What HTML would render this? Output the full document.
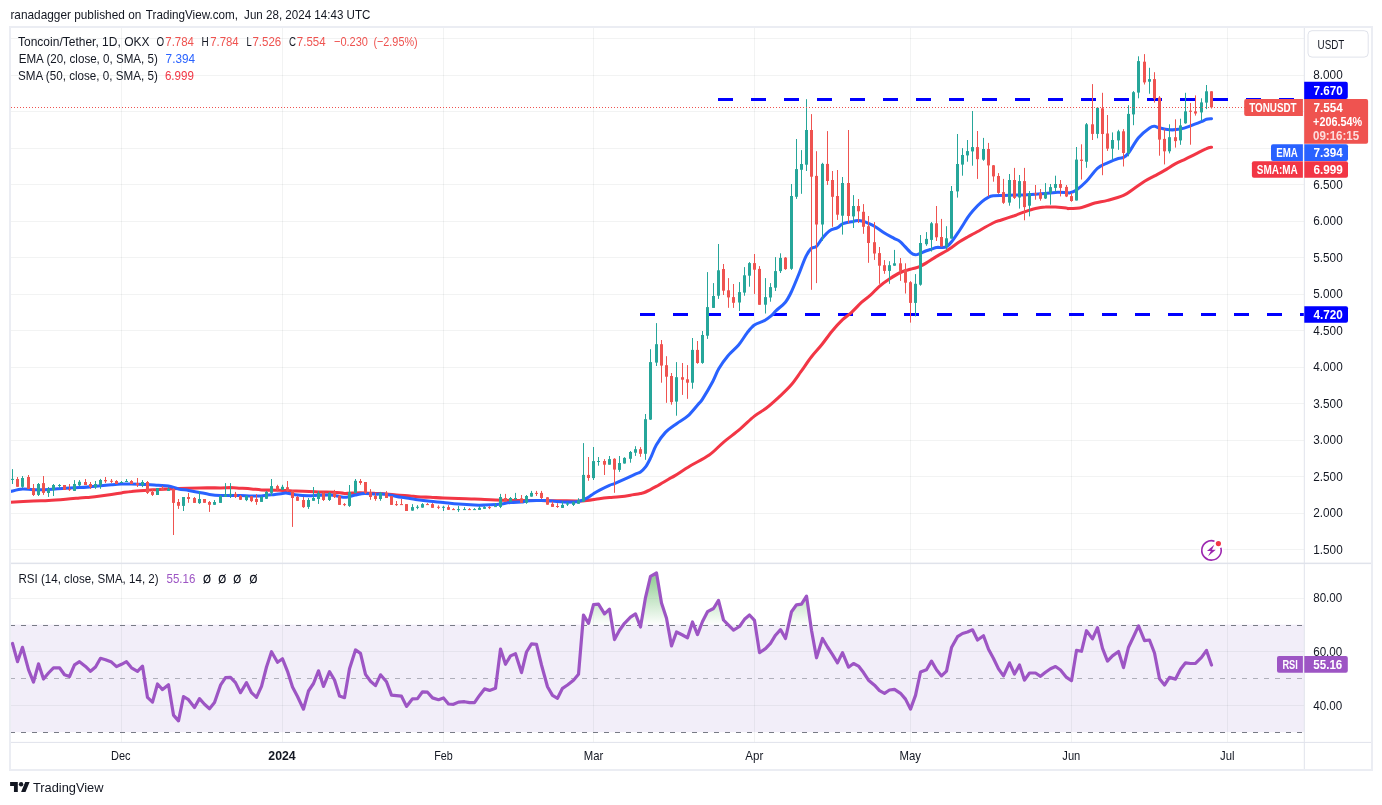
<!DOCTYPE html>
<html><head><meta charset="utf-8"><title>TONUSDT chart</title>
<style>html,body{margin:0;padding:0;background:#fff;}body{width:1382px;height:805px;overflow:hidden;font-family:"Liberation Sans",sans-serif;}</style></head>
<body>
<svg width="1382" height="805" viewBox="0 0 1382 805" style="display:block;will-change:transform" font-family="Liberation Sans, sans-serif">
<defs>
<linearGradient id="ob" gradientUnits="userSpaceOnUse" x1="0" y1="544" x2="0" y2="625.5"><stop offset="0" stop-color="#4caf50" stop-opacity="1"/><stop offset="1" stop-color="#4caf50" stop-opacity="0"/></linearGradient>
<clipPath id="above70"><rect x="10" y="564" width="1294" height="61.5"/></clipPath>
<clipPath id="main"><rect x="10.5" y="28" width="1293.5" height="535"/></clipPath>
</defs>
<rect width="1382" height="805" fill="#ffffff"/>
<rect x="11" y="624.6" width="1293" height="107.6" fill="#7e57c2" fill-opacity="0.1"/>
<rect x="121" y="28" width="1" height="714" fill="#26322e" fill-opacity="0.06"/>
<rect x="282" y="28" width="1" height="714" fill="#26322e" fill-opacity="0.06"/>
<rect x="443" y="28" width="1" height="714" fill="#26322e" fill-opacity="0.06"/>
<rect x="593" y="28" width="1" height="714" fill="#26322e" fill-opacity="0.06"/>
<rect x="754" y="28" width="1" height="714" fill="#26322e" fill-opacity="0.06"/>
<rect x="910" y="28" width="1" height="714" fill="#26322e" fill-opacity="0.06"/>
<rect x="1071" y="28" width="1" height="714" fill="#26322e" fill-opacity="0.06"/>
<rect x="1227" y="28" width="1" height="714" fill="#26322e" fill-opacity="0.06"/>
<rect x="11" y="38" width="1293" height="1" fill="#26322e" fill-opacity="0.06"/>
<rect x="11" y="75" width="1293" height="1" fill="#26322e" fill-opacity="0.06"/>
<rect x="11" y="111" width="1293" height="1" fill="#26322e" fill-opacity="0.06"/>
<rect x="11" y="148" width="1293" height="1" fill="#26322e" fill-opacity="0.06"/>
<rect x="11" y="184" width="1293" height="1" fill="#26322e" fill-opacity="0.06"/>
<rect x="11" y="221" width="1293" height="1" fill="#26322e" fill-opacity="0.06"/>
<rect x="11" y="257" width="1293" height="1" fill="#26322e" fill-opacity="0.06"/>
<rect x="11" y="294" width="1293" height="1" fill="#26322e" fill-opacity="0.06"/>
<rect x="11" y="330" width="1293" height="1" fill="#26322e" fill-opacity="0.06"/>
<rect x="11" y="367" width="1293" height="1" fill="#26322e" fill-opacity="0.06"/>
<rect x="11" y="403" width="1293" height="1" fill="#26322e" fill-opacity="0.06"/>
<rect x="11" y="440" width="1293" height="1" fill="#26322e" fill-opacity="0.06"/>
<rect x="11" y="476" width="1293" height="1" fill="#26322e" fill-opacity="0.06"/>
<rect x="11" y="513" width="1293" height="1" fill="#26322e" fill-opacity="0.06"/>
<rect x="11" y="549" width="1293" height="1" fill="#26322e" fill-opacity="0.06"/>
<rect x="11" y="598" width="1293" height="1" fill="#26322e" fill-opacity="0.06"/>
<rect x="11" y="651" width="1293" height="1" fill="#26322e" fill-opacity="0.06"/>
<rect x="11" y="705" width="1293" height="1" fill="#26322e" fill-opacity="0.06"/>
<line x1="10" x2="1304" y1="625.5" y2="625.5" stroke="#787b86" stroke-width="1" stroke-dasharray="5 6"/>
<line x1="10" x2="1304" y1="732.5" y2="732.5" stroke="#787b86" stroke-width="1" stroke-dasharray="5 6"/>
<line x1="10" x2="1304" y1="678.5" y2="678.5" stroke="#787b86" stroke-opacity="0.55" stroke-width="1" stroke-dasharray="5 6"/>
<g clip-path="url(#main)">
<line x1="718" x2="1304" y1="99.5" y2="99.5" stroke="#0000ff" stroke-width="3" stroke-dasharray="15 18"/>
<line x1="640" x2="1304" y1="314.5" y2="314.5" stroke="#0000ff" stroke-width="3" stroke-dasharray="15 18"/>
<path d="M10.6,502.3 C14.4,502.1 27.1,501.3 33.4,501.0 C39.7,500.7 43.2,500.8 48.6,500.5 C54.0,500.2 60.6,499.7 65.8,499.3 C71.0,498.9 75.4,498.4 79.5,498.0 C83.6,497.6 86.9,497.5 90.4,497.2 C93.9,496.9 96.9,496.5 100.4,496.0 C103.9,495.5 107.9,494.9 111.4,494.4 C114.9,493.9 118.1,493.4 121.5,492.9 C124.9,492.4 127.3,491.8 131.6,491.4 C135.9,490.9 143.1,490.5 147.5,490.2 C151.9,489.9 154.8,489.6 158.3,489.4 C161.8,489.2 165.0,489.1 168.4,488.9 C171.8,488.7 173.4,488.6 178.6,488.4 C183.8,488.2 192.4,488.0 199.4,487.9 C206.4,487.8 215.2,487.9 220.4,487.9 C225.6,487.8 227.1,487.6 230.4,487.6 C233.8,487.7 237.0,488.0 240.5,488.2 C244.0,488.4 248.0,488.6 251.5,488.9 C255.0,489.2 257.5,489.7 261.4,489.9 C265.3,490.1 271.5,490.1 275.0,490.2 C278.5,490.3 279.6,490.3 282.5,490.4 C285.4,490.5 289.0,490.8 292.5,490.9 C296.0,491.0 299.1,491.0 303.4,491.2 C307.7,491.4 313.2,491.7 318.4,491.9 C323.6,492.1 330.0,491.9 334.4,492.2 C338.8,492.4 341.0,493.3 344.5,493.4 C348.0,493.5 351.9,493.0 355.4,492.9 C358.9,492.8 362.0,492.8 365.4,492.9 C368.8,493.0 372.0,493.2 375.5,493.4 C379.0,493.6 383.0,493.6 386.5,493.9 C390.0,494.2 392.5,494.6 396.4,495.0 C400.3,495.4 406.5,495.7 410.0,496.0 C413.5,496.3 414.1,496.5 417.5,496.7 C420.9,496.9 426.0,497.1 430.3,497.3 C434.6,497.5 438.7,497.8 443.4,498.0 C448.1,498.2 453.3,498.3 458.5,498.5 C463.7,498.7 470.2,498.8 474.5,499.0 C478.8,499.2 481.0,499.3 484.5,499.5 C488.0,499.7 492.0,499.9 495.5,500.0 C499.0,500.1 502.2,500.2 505.5,500.3 C508.8,500.4 511.9,500.5 515.4,500.5 C518.9,500.5 523.0,500.5 526.5,500.5 C530.0,500.5 533.3,500.5 536.4,500.5 C539.5,500.5 540.7,500.6 545.0,500.7 C549.3,500.8 556.8,500.8 562.4,500.8 C568.0,500.9 574.3,501.1 578.4,501.0 C582.5,500.9 583.4,500.8 586.9,500.4 C590.4,500.0 595.4,499.2 599.2,498.7 C603.0,498.2 606.1,497.9 609.5,497.6 C612.9,497.3 616.0,497.2 619.5,496.8 C623.0,496.4 627.0,495.8 630.5,495.2 C634.0,494.6 638.0,494.0 640.5,493.5 C643.0,493.0 643.0,493.2 645.6,492.0 C648.2,490.8 652.5,488.5 656.3,486.4 C660.1,484.3 665.4,481.0 668.5,479.2 C671.6,477.4 671.4,477.8 675.0,475.6 C678.6,473.4 684.3,469.4 690.0,466.0 C695.7,462.6 703.6,458.9 709.2,455.0 C714.8,451.1 718.3,446.6 723.4,442.3 C728.5,438.0 734.8,433.5 740.0,429.1 C745.2,424.7 750.0,419.6 754.4,416.1 C758.8,412.6 761.8,411.6 766.1,408.3 C770.4,405.0 775.8,400.0 780.0,396.1 C784.2,392.2 787.8,388.9 791.3,384.8 C794.8,380.7 797.6,376.3 800.9,371.7 C804.2,367.1 807.8,361.5 811.3,357.0 C814.8,352.5 818.2,349.2 821.7,344.8 C825.2,340.4 828.7,335.1 832.2,330.9 C835.7,326.7 839.4,322.7 842.6,319.6 C845.8,316.6 848.1,315.5 851.3,312.6 C854.5,309.7 858.5,305.1 861.7,302.2 C864.9,299.3 867.5,297.8 870.4,295.2 C873.3,292.6 876.2,289.0 879.4,286.3 C882.6,283.6 885.9,281.3 889.4,279.0 C892.9,276.7 896.9,274.1 900.4,272.5 C903.9,270.9 907.9,270.1 910.4,269.3 C912.9,268.6 913.7,268.5 915.4,268.0 C917.1,267.5 918.7,267.0 920.5,266.1 C922.3,265.2 923.7,264.5 926.4,262.9 C929.1,261.3 933.2,258.4 936.6,256.4 C940.0,254.4 944.1,252.2 946.6,250.7 C949.1,249.2 949.5,249.0 951.6,247.5 C953.8,246.0 956.8,243.6 959.5,241.8 C962.2,240.1 965.0,238.5 967.6,237.0 C970.2,235.5 970.8,235.3 975.0,233.0 C979.2,230.7 988.6,225.2 993.0,223.0 C997.4,220.8 997.9,221.2 1001.4,220.0 C1004.9,218.8 1010.4,217.0 1014.3,215.7 C1018.2,214.3 1021.1,213.1 1024.6,211.9 C1028.1,210.7 1031.9,209.4 1035.4,208.6 C1038.9,207.8 1042.1,207.3 1045.4,207.1 C1048.7,206.8 1051.9,206.9 1055.4,207.1 C1058.9,207.3 1064.2,207.8 1066.4,208.1 C1068.6,208.3 1066.2,208.7 1068.7,208.6 C1071.2,208.5 1077.4,208.3 1081.7,207.4 C1086.0,206.5 1090.5,204.2 1094.8,203.0 C1099.1,201.8 1102.8,201.7 1107.6,200.4 C1112.4,199.1 1119.2,197.3 1123.5,195.4 C1127.8,193.5 1130.0,191.2 1133.5,188.9 C1137.0,186.6 1141.1,183.5 1144.6,181.3 C1148.1,179.1 1151.3,177.7 1154.6,175.9 C1157.9,174.1 1161.2,172.4 1164.6,170.4 C1168.0,168.4 1171.7,165.8 1175.2,163.9 C1178.7,162.0 1182.0,160.7 1185.4,159.1 C1188.8,157.5 1191.9,155.8 1195.4,154.1 C1198.9,152.4 1203.8,149.8 1206.5,148.7 C1209.2,147.5 1210.7,147.4 1211.5,147.2" fill="none" stroke="#f23645" stroke-width="3.05" stroke-linejoin="round" stroke-linecap="round"/>
<path d="M10.6,491.4 C12.6,491.0 18.6,489.4 22.4,489.1 C26.2,488.8 29.0,489.6 33.4,489.7 C37.8,489.8 43.2,489.6 48.6,489.4 C54.0,489.1 60.6,488.5 65.8,488.2 C71.0,487.9 75.4,487.8 79.5,487.6 C83.6,487.4 86.9,487.1 90.4,486.8 C93.9,486.5 96.9,486.1 100.4,485.8 C103.9,485.5 107.9,485.1 111.4,484.8 C114.9,484.5 118.1,484.2 121.5,484.1 C124.9,484.0 127.3,483.9 131.6,484.0 C135.9,484.1 143.1,484.4 147.5,484.6 C151.9,484.8 154.8,485.1 158.3,485.3 C161.8,485.6 165.0,485.5 168.4,486.1 C171.8,486.7 175.2,488.2 178.6,488.9 C182.0,489.6 185.2,489.8 188.7,490.4 C192.2,491.0 195.9,491.7 199.4,492.4 C202.9,493.1 206.0,493.9 209.5,494.4 C213.0,494.9 216.9,495.3 220.4,495.5 C223.9,495.7 227.1,495.5 230.4,495.5 C233.8,495.5 237.0,495.4 240.5,495.5 C244.0,495.6 248.0,495.9 251.5,496.0 C255.0,496.1 258.9,496.1 261.4,496.0 C263.9,495.9 264.4,495.6 266.7,495.3 C269.0,495.0 272.4,494.7 275.0,494.4 C277.6,494.1 280.4,493.6 282.5,493.4 C284.6,493.2 284.9,492.9 287.4,493.2 C289.9,493.5 294.0,494.6 297.5,495.0 C301.0,495.4 304.9,495.6 308.4,495.7 C311.9,495.8 314.9,495.4 318.4,495.3 C321.9,495.2 326.0,494.8 329.5,495.0 C333.0,495.2 336.9,496.1 339.4,496.5 C341.9,496.9 342.8,497.3 344.5,497.3 C346.2,497.3 347.7,496.9 349.5,496.5 C351.3,496.1 353.6,495.4 355.4,495.0 C357.2,494.6 358.8,494.2 360.5,493.9 C362.2,493.6 362.9,493.3 365.4,493.4 C367.9,493.4 373.0,494.1 375.5,494.2 C378.0,494.3 378.6,493.9 380.4,493.9 C382.2,493.9 384.6,494.2 386.5,494.4 C388.4,494.6 389.0,494.8 391.5,495.3 C394.0,495.8 398.3,496.8 401.4,497.3 C404.5,497.8 407.3,498.1 410.0,498.5 C412.7,498.9 414.1,499.3 417.5,499.8 C420.9,500.3 426.0,500.9 430.3,501.3 C434.6,501.8 438.7,502.0 443.4,502.5 C448.1,503.0 453.3,503.7 458.5,504.1 C463.7,504.5 470.2,504.9 474.5,505.1 C478.8,505.3 481.0,505.2 484.5,505.1 C488.0,505.0 492.9,504.8 495.5,504.6 C498.1,504.4 497.9,504.5 500.4,504.1 C502.9,503.8 507.0,502.9 510.5,502.5 C514.0,502.1 518.8,502.2 521.5,502.0 C524.2,501.8 524.0,501.2 526.5,501.0 C529.0,500.8 533.3,500.6 536.4,500.5 C539.5,500.4 541.6,500.3 545.0,500.5 C548.4,500.7 553.0,501.2 556.8,501.5 C560.6,501.8 564.3,502.1 567.9,502.1 C571.5,502.1 575.2,502.1 578.4,501.5 C581.6,500.9 584.4,499.5 586.9,498.2 C589.4,496.9 591.5,495.0 593.5,493.7 C595.5,492.4 596.5,491.7 599.2,490.3 C601.9,488.9 607.0,486.4 609.5,485.3 C612.0,484.2 612.0,484.6 614.5,483.6 C617.0,482.6 621.1,480.8 624.6,479.2 C628.1,477.6 632.6,475.3 635.3,474.1 C637.9,472.9 638.8,473.1 640.5,471.9 C642.2,470.7 643.9,469.2 645.6,466.9 C647.3,464.6 648.8,461.5 650.6,457.9 C652.4,454.2 653.9,449.2 656.3,445.0 C658.7,440.8 661.8,436.2 665.2,432.6 C668.6,429.1 672.9,426.4 676.6,423.7 C680.3,421.0 684.1,419.3 687.6,416.2 C691.1,413.1 695.1,407.9 697.6,405.0 C700.1,402.1 700.0,403.1 702.5,399.1 C705.0,395.1 710.2,386.3 712.9,381.2 C715.6,376.1 716.4,372.7 718.9,368.5 C721.4,364.3 724.5,359.8 727.8,355.9 C731.1,352.0 735.4,348.8 738.6,345.0 C741.8,341.2 744.5,336.2 747.1,332.9 C749.7,329.6 751.5,327.0 754.4,325.0 C757.3,323.0 761.5,322.2 764.3,320.7 C767.1,319.1 769.4,317.4 771.4,315.7 C773.4,314.0 773.8,312.9 776.1,310.7 C778.4,308.4 782.8,305.4 785.4,302.2 C788.0,299.0 789.3,296.2 791.6,291.3 C793.9,286.4 797.1,278.4 799.4,272.7 C801.7,267.0 803.7,261.1 805.6,257.1 C807.5,253.1 809.2,250.4 811.0,248.6 C812.8,246.8 814.5,248.1 816.5,246.3 C818.5,244.5 820.5,240.3 822.7,237.7 C824.9,235.1 827.2,232.4 829.7,230.7 C832.2,229.0 835.4,228.8 837.6,227.6 C839.8,226.4 840.3,224.7 842.9,223.7 C845.5,222.7 850.8,221.9 853.4,221.4 C856.0,220.9 856.7,220.4 858.4,220.4 C860.1,220.4 861.7,220.9 863.4,221.4 C865.1,221.9 866.6,222.5 868.4,223.3 C870.2,224.1 871.7,224.7 874.4,226.3 C877.1,227.9 881.1,230.9 884.4,233.0 C887.7,235.1 891.7,237.1 894.4,238.6 C897.1,240.1 897.7,239.5 900.4,241.8 C903.1,244.1 907.9,250.1 910.4,252.3 C912.9,254.5 913.7,254.7 915.4,254.8 C917.1,255.0 918.7,253.9 920.5,253.2 C922.3,252.5 924.5,251.4 926.4,250.7 C928.2,250.0 929.9,249.6 931.6,249.1 C933.3,248.6 934.9,247.8 936.6,247.5 C938.3,247.2 939.9,247.6 941.6,247.5 C943.3,247.4 944.9,247.6 946.6,246.7 C948.3,245.8 949.5,244.5 951.6,241.8 C953.8,239.1 956.8,234.5 959.5,230.5 C962.2,226.5 965.4,220.9 967.6,217.6 C969.8,214.3 970.6,213.3 972.9,210.7 C975.2,208.1 978.8,204.4 981.4,202.1 C984.0,199.8 986.6,198.2 988.6,197.1 C990.6,196.0 991.1,196.0 993.6,195.7 C996.1,195.4 1000.2,195.5 1003.6,195.4 C1007.0,195.3 1010.8,195.1 1014.3,195.0 C1017.8,194.9 1021.1,195.1 1024.6,195.0 C1028.1,194.9 1031.9,194.5 1035.4,194.3 C1038.9,194.1 1042.1,193.9 1045.4,193.6 C1048.7,193.3 1051.9,192.6 1055.4,192.4 C1058.9,192.2 1064.0,192.5 1066.4,192.6 C1068.8,192.7 1068.3,193.2 1070.0,192.8 C1071.7,192.4 1073.8,191.9 1076.5,190.0 C1079.2,188.1 1083.0,184.9 1086.5,181.3 C1090.0,177.7 1093.9,171.4 1097.4,168.3 C1100.9,165.2 1104.1,164.4 1107.6,162.8 C1111.1,161.2 1115.6,159.4 1118.3,158.5 C1121.0,157.6 1121.8,158.3 1123.5,157.4 C1125.2,156.5 1126.0,156.3 1128.5,153.0 C1131.0,149.7 1135.0,142.0 1138.5,137.8 C1142.0,133.6 1146.9,129.9 1149.6,128.0 C1152.3,126.1 1152.9,126.3 1154.6,126.3 C1156.3,126.3 1157.1,127.4 1159.6,128.0 C1162.1,128.6 1166.1,129.6 1169.6,129.8 C1173.1,130.0 1176.9,129.8 1180.4,129.1 C1183.9,128.4 1186.9,127.2 1190.4,125.9 C1193.9,124.6 1198.8,122.6 1201.5,121.5 C1204.2,120.4 1204.8,119.8 1206.5,119.3 C1208.2,118.8 1210.7,118.8 1211.5,118.7" fill="none" stroke="#2962ff" stroke-width="3.05" stroke-linejoin="round" stroke-linecap="round"/>
<rect x="12.0" y="469.1" width="1" height="14.9" fill="#26a69a"/>
<rect x="11.0" y="478.9" width="3" height="1.0" fill="#26a69a"/>
<rect x="17.0" y="477.0" width="1" height="9.8" fill="#ef5350"/>
<rect x="16.0" y="479.0" width="3" height="7.8" fill="#ef5350"/>
<rect x="22.0" y="476.0" width="1" height="11.9" fill="#26a69a"/>
<rect x="21.0" y="478.0" width="3" height="8.8" fill="#26a69a"/>
<rect x="28.0" y="475.0" width="1" height="13.9" fill="#ef5350"/>
<rect x="27.0" y="477.0" width="3" height="11.9" fill="#ef5350"/>
<rect x="33.0" y="484.0" width="1" height="12.0" fill="#ef5350"/>
<rect x="32.0" y="488.1" width="3" height="6.9" fill="#ef5350"/>
<rect x="38.0" y="483.0" width="1" height="13.0" fill="#26a69a"/>
<rect x="37.0" y="484.0" width="3" height="10.9" fill="#26a69a"/>
<rect x="43.0" y="476.0" width="1" height="18.9" fill="#ef5350"/>
<rect x="42.0" y="483.1" width="3" height="9.8" fill="#ef5350"/>
<rect x="48.0" y="487.0" width="1" height="9.9" fill="#26a69a"/>
<rect x="47.0" y="488.9" width="3" height="4.1" fill="#26a69a"/>
<rect x="53.0" y="484.0" width="1" height="12.0" fill="#26a69a"/>
<rect x="52.0" y="485.0" width="3" height="5.1" fill="#26a69a"/>
<rect x="59.0" y="484.0" width="1" height="4.1" fill="#26a69a"/>
<rect x="58.0" y="485.0" width="3" height="1.0" fill="#26a69a"/>
<rect x="64.0" y="485.0" width="1" height="4.9" fill="#ef5350"/>
<rect x="63.0" y="485.0" width="3" height="4.9" fill="#ef5350"/>
<rect x="69.0" y="484.0" width="1" height="6.9" fill="#ef5350"/>
<rect x="68.0" y="489.1" width="3" height="1.0" fill="#ef5350"/>
<rect x="74.0" y="480.1" width="1" height="10.8" fill="#26a69a"/>
<rect x="73.0" y="484.0" width="3" height="6.9" fill="#26a69a"/>
<rect x="79.0" y="480.1" width="1" height="6.0" fill="#26a69a"/>
<rect x="78.0" y="481.8" width="3" height="3.5" fill="#26a69a"/>
<rect x="85.0" y="479.0" width="1" height="6.0" fill="#ef5350"/>
<rect x="84.0" y="482.0" width="3" height="3.0" fill="#ef5350"/>
<rect x="90.0" y="482.0" width="1" height="6.9" fill="#ef5350"/>
<rect x="89.0" y="484.0" width="3" height="3.0" fill="#ef5350"/>
<rect x="95.0" y="481.0" width="1" height="7.9" fill="#26a69a"/>
<rect x="94.0" y="484.0" width="3" height="3.3" fill="#26a69a"/>
<rect x="100.0" y="478.9" width="1" height="9.9" fill="#26a69a"/>
<rect x="99.0" y="480.0" width="3" height="5.1" fill="#26a69a"/>
<rect x="105.0" y="477.0" width="1" height="6.0" fill="#ef5350"/>
<rect x="104.0" y="480.0" width="3" height="1.3" fill="#ef5350"/>
<rect x="111.0" y="479.0" width="1" height="4.0" fill="#ef5350"/>
<rect x="110.0" y="480.8" width="3" height="1.0" fill="#ef5350"/>
<rect x="116.0" y="480.1" width="1" height="4.0" fill="#ef5350"/>
<rect x="115.0" y="481.0" width="3" height="3.0" fill="#ef5350"/>
<rect x="121.0" y="481.0" width="1" height="2.0" fill="#26a69a"/>
<rect x="120.0" y="482.0" width="3" height="1.0" fill="#26a69a"/>
<rect x="126.0" y="479.0" width="1" height="2.9" fill="#26a69a"/>
<rect x="125.0" y="481.0" width="3" height="1.0" fill="#26a69a"/>
<rect x="131.0" y="480.1" width="1" height="4.0" fill="#ef5350"/>
<rect x="130.0" y="481.0" width="3" height="3.0" fill="#ef5350"/>
<rect x="137.0" y="478.0" width="1" height="9.0" fill="#ef5350"/>
<rect x="136.0" y="483.0" width="3" height="2.0" fill="#ef5350"/>
<rect x="142.0" y="480.1" width="1" height="7.0" fill="#26a69a"/>
<rect x="141.0" y="482.0" width="3" height="3.3" fill="#26a69a"/>
<rect x="147.0" y="481.0" width="1" height="13.0" fill="#ef5350"/>
<rect x="146.0" y="482.0" width="3" height="10.9" fill="#ef5350"/>
<rect x="152.0" y="489.1" width="1" height="6.9" fill="#ef5350"/>
<rect x="151.0" y="491.9" width="3" height="3.0" fill="#ef5350"/>
<rect x="157.0" y="488.1" width="1" height="6.9" fill="#26a69a"/>
<rect x="156.0" y="488.1" width="3" height="6.9" fill="#26a69a"/>
<rect x="162.0" y="486.0" width="1" height="4.1" fill="#ef5350"/>
<rect x="161.0" y="487.9" width="3" height="2.2" fill="#ef5350"/>
<rect x="168.0" y="487.0" width="1" height="3.8" fill="#26a69a"/>
<rect x="167.0" y="488.9" width="3" height="2.0" fill="#26a69a"/>
<rect x="173.0" y="488.1" width="1" height="46.9" fill="#ef5350"/>
<rect x="172.0" y="489.1" width="3" height="13.8" fill="#ef5350"/>
<rect x="178.0" y="499.0" width="1" height="9.9" fill="#ef5350"/>
<rect x="177.0" y="502.0" width="3" height="3.8" fill="#ef5350"/>
<rect x="183.0" y="497.0" width="1" height="14.0" fill="#26a69a"/>
<rect x="182.0" y="497.0" width="3" height="8.9" fill="#26a69a"/>
<rect x="188.0" y="492.9" width="1" height="9.9" fill="#ef5350"/>
<rect x="187.0" y="497.0" width="3" height="2.0" fill="#ef5350"/>
<rect x="194.0" y="497.0" width="1" height="5.9" fill="#ef5350"/>
<rect x="193.0" y="498.0" width="3" height="4.9" fill="#ef5350"/>
<rect x="199.0" y="491.1" width="1" height="12.8" fill="#26a69a"/>
<rect x="198.0" y="499.0" width="3" height="4.1" fill="#26a69a"/>
<rect x="204.0" y="499.0" width="1" height="3.8" fill="#ef5350"/>
<rect x="203.0" y="499.0" width="3" height="3.8" fill="#ef5350"/>
<rect x="209.0" y="501.0" width="1" height="10.9" fill="#ef5350"/>
<rect x="208.0" y="502.0" width="3" height="2.8" fill="#ef5350"/>
<rect x="214.0" y="500.0" width="1" height="4.9" fill="#26a69a"/>
<rect x="213.0" y="502.0" width="3" height="2.8" fill="#26a69a"/>
<rect x="220.0" y="495.0" width="1" height="7.9" fill="#26a69a"/>
<rect x="219.0" y="496.0" width="3" height="6.9" fill="#26a69a"/>
<rect x="225.0" y="483.1" width="1" height="13.7" fill="#26a69a"/>
<rect x="224.0" y="494.4" width="3" height="2.3" fill="#26a69a"/>
<rect x="230.0" y="483.1" width="1" height="14.9" fill="#26a69a"/>
<rect x="229.0" y="493.9" width="3" height="1.5" fill="#26a69a"/>
<rect x="235.0" y="491.9" width="1" height="6.1" fill="#ef5350"/>
<rect x="234.0" y="493.9" width="3" height="3.0" fill="#ef5350"/>
<rect x="240.0" y="495.0" width="1" height="4.9" fill="#ef5350"/>
<rect x="239.0" y="496.0" width="3" height="3.8" fill="#ef5350"/>
<rect x="246.0" y="495.0" width="1" height="6.1" fill="#26a69a"/>
<rect x="245.0" y="496.0" width="3" height="4.1" fill="#26a69a"/>
<rect x="251.0" y="496.0" width="1" height="6.1" fill="#ef5350"/>
<rect x="250.0" y="496.2" width="3" height="4.9" fill="#ef5350"/>
<rect x="256.0" y="494.1" width="1" height="10.7" fill="#ef5350"/>
<rect x="255.0" y="499.0" width="3" height="3.0" fill="#ef5350"/>
<rect x="261.0" y="496.0" width="1" height="5.9" fill="#26a69a"/>
<rect x="260.0" y="497.0" width="3" height="4.9" fill="#26a69a"/>
<rect x="266.0" y="490.9" width="1" height="8.1" fill="#26a69a"/>
<rect x="265.0" y="491.9" width="3" height="6.9" fill="#26a69a"/>
<rect x="271.0" y="479.0" width="1" height="16.9" fill="#26a69a"/>
<rect x="270.0" y="486.1" width="3" height="6.8" fill="#26a69a"/>
<rect x="277.0" y="484.8" width="1" height="6.6" fill="#ef5350"/>
<rect x="276.0" y="486.1" width="3" height="3.7" fill="#ef5350"/>
<rect x="282.0" y="484.8" width="1" height="5.1" fill="#26a69a"/>
<rect x="281.0" y="486.8" width="3" height="3.0" fill="#26a69a"/>
<rect x="287.0" y="481.0" width="1" height="10.9" fill="#ef5350"/>
<rect x="286.0" y="487.2" width="3" height="3.7" fill="#ef5350"/>
<rect x="292.0" y="490.1" width="1" height="36.8" fill="#ef5350"/>
<rect x="291.0" y="490.9" width="3" height="7.1" fill="#ef5350"/>
<rect x="297.0" y="496.0" width="1" height="4.9" fill="#ef5350"/>
<rect x="296.0" y="497.0" width="3" height="3.8" fill="#ef5350"/>
<rect x="303.0" y="497.0" width="1" height="10.9" fill="#ef5350"/>
<rect x="302.0" y="500.0" width="3" height="7.1" fill="#ef5350"/>
<rect x="308.0" y="498.0" width="1" height="10.9" fill="#26a69a"/>
<rect x="307.0" y="500.0" width="3" height="6.9" fill="#26a69a"/>
<rect x="313.0" y="487.0" width="1" height="13.8" fill="#26a69a"/>
<rect x="312.0" y="498.0" width="3" height="2.8" fill="#26a69a"/>
<rect x="318.0" y="490.9" width="1" height="13.0" fill="#26a69a"/>
<rect x="317.0" y="492.9" width="3" height="6.1" fill="#26a69a"/>
<rect x="323.0" y="491.9" width="1" height="9.1" fill="#ef5350"/>
<rect x="322.0" y="492.9" width="3" height="7.1" fill="#ef5350"/>
<rect x="329.0" y="491.9" width="1" height="9.1" fill="#26a69a"/>
<rect x="328.0" y="492.9" width="3" height="7.1" fill="#26a69a"/>
<rect x="334.0" y="489.9" width="1" height="8.1" fill="#ef5350"/>
<rect x="333.0" y="491.9" width="3" height="5.1" fill="#ef5350"/>
<rect x="339.0" y="495.0" width="1" height="9.9" fill="#ef5350"/>
<rect x="338.0" y="496.0" width="3" height="8.9" fill="#ef5350"/>
<rect x="344.0" y="503.1" width="1" height="3.0" fill="#ef5350"/>
<rect x="343.0" y="504.1" width="3" height="1.0" fill="#ef5350"/>
<rect x="349.0" y="485.0" width="1" height="21.9" fill="#26a69a"/>
<rect x="348.0" y="492.1" width="3" height="13.8" fill="#26a69a"/>
<rect x="355.0" y="479.0" width="1" height="13.9" fill="#26a69a"/>
<rect x="354.0" y="480.8" width="3" height="12.2" fill="#26a69a"/>
<rect x="360.0" y="479.0" width="1" height="5.8" fill="#ef5350"/>
<rect x="359.0" y="481.0" width="3" height="2.0" fill="#ef5350"/>
<rect x="365.0" y="482.0" width="1" height="12.0" fill="#ef5350"/>
<rect x="364.0" y="482.0" width="3" height="10.9" fill="#ef5350"/>
<rect x="370.0" y="489.1" width="1" height="10.7" fill="#ef5350"/>
<rect x="369.0" y="491.9" width="3" height="5.1" fill="#ef5350"/>
<rect x="375.0" y="492.9" width="1" height="7.9" fill="#ef5350"/>
<rect x="374.0" y="496.0" width="3" height="3.0" fill="#ef5350"/>
<rect x="380.0" y="491.9" width="1" height="8.9" fill="#26a69a"/>
<rect x="379.0" y="492.9" width="3" height="6.1" fill="#26a69a"/>
<rect x="386.0" y="491.1" width="1" height="6.9" fill="#ef5350"/>
<rect x="385.0" y="492.9" width="3" height="5.1" fill="#ef5350"/>
<rect x="391.0" y="496.0" width="1" height="8.9" fill="#ef5350"/>
<rect x="390.0" y="496.0" width="3" height="8.9" fill="#ef5350"/>
<rect x="396.0" y="501.0" width="1" height="4.9" fill="#ef5350"/>
<rect x="395.0" y="504.1" width="3" height="1.0" fill="#ef5350"/>
<rect x="401.0" y="499.0" width="1" height="5.9" fill="#ef5350"/>
<rect x="400.0" y="504.1" width="3" height="1.0" fill="#ef5350"/>
<rect x="406.0" y="504.1" width="1" height="6.9" fill="#ef5350"/>
<rect x="405.0" y="504.1" width="3" height="6.9" fill="#ef5350"/>
<rect x="412.0" y="504.1" width="1" height="6.6" fill="#26a69a"/>
<rect x="411.0" y="507.1" width="3" height="3.5" fill="#26a69a"/>
<rect x="417.0" y="505.1" width="1" height="4.1" fill="#26a69a"/>
<rect x="416.0" y="506.8" width="3" height="1.0" fill="#26a69a"/>
<rect x="422.0" y="503.1" width="1" height="4.6" fill="#26a69a"/>
<rect x="421.0" y="504.1" width="3" height="3.5" fill="#26a69a"/>
<rect x="427.0" y="503.1" width="1" height="1.5" fill="#ef5350"/>
<rect x="426.0" y="504.1" width="3" height="1.0" fill="#ef5350"/>
<rect x="432.0" y="503.1" width="1" height="4.8" fill="#ef5350"/>
<rect x="431.0" y="504.1" width="3" height="3.7" fill="#ef5350"/>
<rect x="438.0" y="505.3" width="1" height="3.8" fill="#ef5350"/>
<rect x="437.0" y="506.8" width="3" height="1.0" fill="#ef5350"/>
<rect x="443.0" y="505.8" width="1" height="5.2" fill="#26a69a"/>
<rect x="442.0" y="506.8" width="3" height="1.0" fill="#26a69a"/>
<rect x="448.0" y="505.1" width="1" height="4.8" fill="#ef5350"/>
<rect x="447.0" y="507.1" width="3" height="2.7" fill="#ef5350"/>
<rect x="453.0" y="508.1" width="1" height="1.7" fill="#ef5350"/>
<rect x="452.0" y="509.1" width="3" height="1.0" fill="#ef5350"/>
<rect x="458.0" y="505.9" width="1" height="6.0" fill="#26a69a"/>
<rect x="457.0" y="509.1" width="3" height="1.0" fill="#26a69a"/>
<rect x="464.0" y="507.1" width="1" height="2.8" fill="#26a69a"/>
<rect x="463.0" y="509.1" width="3" height="1.0" fill="#26a69a"/>
<rect x="469.0" y="508.1" width="1" height="1.8" fill="#ef5350"/>
<rect x="468.0" y="509.1" width="3" height="1.0" fill="#ef5350"/>
<rect x="474.0" y="508.1" width="1" height="1.8" fill="#26a69a"/>
<rect x="473.0" y="509.1" width="3" height="1.0" fill="#26a69a"/>
<rect x="479.0" y="506.1" width="1" height="3.8" fill="#26a69a"/>
<rect x="478.0" y="507.8" width="3" height="2.1" fill="#26a69a"/>
<rect x="484.0" y="506.1" width="1" height="2.7" fill="#26a69a"/>
<rect x="483.0" y="507.1" width="3" height="1.7" fill="#26a69a"/>
<rect x="489.0" y="506.1" width="1" height="3.0" fill="#ef5350"/>
<rect x="488.0" y="507.1" width="3" height="1.0" fill="#ef5350"/>
<rect x="495.0" y="503.1" width="1" height="3.8" fill="#26a69a"/>
<rect x="494.0" y="506.1" width="3" height="1.0" fill="#26a69a"/>
<rect x="500.0" y="493.9" width="1" height="14.2" fill="#26a69a"/>
<rect x="499.0" y="497.0" width="3" height="9.9" fill="#26a69a"/>
<rect x="505.0" y="493.9" width="1" height="7.6" fill="#ef5350"/>
<rect x="504.0" y="498.0" width="3" height="3.5" fill="#ef5350"/>
<rect x="510.0" y="497.0" width="1" height="4.9" fill="#26a69a"/>
<rect x="509.0" y="498.0" width="3" height="3.8" fill="#26a69a"/>
<rect x="515.0" y="492.9" width="1" height="7.1" fill="#26a69a"/>
<rect x="514.0" y="498.0" width="3" height="1.0" fill="#26a69a"/>
<rect x="521.0" y="495.0" width="1" height="7.8" fill="#ef5350"/>
<rect x="520.0" y="498.3" width="3" height="4.5" fill="#ef5350"/>
<rect x="526.0" y="495.0" width="1" height="8.8" fill="#26a69a"/>
<rect x="525.0" y="496.0" width="3" height="6.8" fill="#26a69a"/>
<rect x="531.0" y="490.9" width="1" height="5.8" fill="#26a69a"/>
<rect x="530.0" y="492.9" width="3" height="3.7" fill="#26a69a"/>
<rect x="536.0" y="490.9" width="1" height="5.1" fill="#ef5350"/>
<rect x="535.0" y="492.9" width="3" height="1.0" fill="#ef5350"/>
<rect x="541.0" y="490.9" width="1" height="8.1" fill="#ef5350"/>
<rect x="540.0" y="492.9" width="3" height="5.1" fill="#ef5350"/>
<rect x="547.0" y="497.1" width="1" height="7.6" fill="#ef5350"/>
<rect x="546.0" y="497.3" width="3" height="7.4" fill="#ef5350"/>
<rect x="552.0" y="501.5" width="1" height="5.4" fill="#ef5350"/>
<rect x="551.0" y="503.8" width="3" height="3.1" fill="#ef5350"/>
<rect x="557.0" y="503.2" width="1" height="4.7" fill="#ef5350"/>
<rect x="556.0" y="506.0" width="3" height="1.0" fill="#ef5350"/>
<rect x="562.0" y="501.5" width="1" height="6.4" fill="#26a69a"/>
<rect x="561.0" y="504.9" width="3" height="3.0" fill="#26a69a"/>
<rect x="567.0" y="502.1" width="1" height="3.9" fill="#26a69a"/>
<rect x="566.0" y="503.4" width="3" height="1.2" fill="#26a69a"/>
<rect x="573.0" y="501.3" width="1" height="4.7" fill="#26a69a"/>
<rect x="572.0" y="502.1" width="3" height="2.8" fill="#26a69a"/>
<rect x="578.0" y="498.2" width="1" height="5.6" fill="#26a69a"/>
<rect x="577.0" y="500.4" width="3" height="3.4" fill="#26a69a"/>
<rect x="583.0" y="443.1" width="1" height="58.7" fill="#26a69a"/>
<rect x="582.0" y="474.9" width="3" height="26.8" fill="#26a69a"/>
<rect x="588.0" y="457.0" width="1" height="23.8" fill="#ef5350"/>
<rect x="587.0" y="474.9" width="3" height="3.1" fill="#ef5350"/>
<rect x="593.0" y="447.0" width="1" height="33.0" fill="#26a69a"/>
<rect x="592.0" y="461.1" width="3" height="17.0" fill="#26a69a"/>
<rect x="598.0" y="457.0" width="1" height="8.7" fill="#26a69a"/>
<rect x="597.0" y="461.0" width="3" height="1.0" fill="#26a69a"/>
<rect x="604.0" y="459.1" width="1" height="15.9" fill="#ef5350"/>
<rect x="603.0" y="461.0" width="3" height="3.7" fill="#ef5350"/>
<rect x="609.0" y="456.0" width="1" height="8.6" fill="#26a69a"/>
<rect x="608.0" y="459.1" width="3" height="5.6" fill="#26a69a"/>
<rect x="614.0" y="458.2" width="1" height="34.6" fill="#ef5350"/>
<rect x="613.0" y="458.8" width="3" height="10.8" fill="#ef5350"/>
<rect x="619.0" y="456.0" width="1" height="15.9" fill="#26a69a"/>
<rect x="618.0" y="463.0" width="3" height="6.9" fill="#26a69a"/>
<rect x="624.0" y="457.2" width="1" height="6.4" fill="#26a69a"/>
<rect x="623.0" y="457.9" width="3" height="5.6" fill="#26a69a"/>
<rect x="630.0" y="451.0" width="1" height="11.7" fill="#26a69a"/>
<rect x="629.0" y="452.0" width="3" height="6.8" fill="#26a69a"/>
<rect x="635.0" y="446.2" width="1" height="9.7" fill="#26a69a"/>
<rect x="634.0" y="449.2" width="3" height="3.5" fill="#26a69a"/>
<rect x="640.0" y="447.1" width="1" height="9.7" fill="#ef5350"/>
<rect x="639.0" y="449.2" width="3" height="4.6" fill="#ef5350"/>
<rect x="645.0" y="414.0" width="1" height="45.8" fill="#26a69a"/>
<rect x="644.0" y="419.2" width="3" height="34.6" fill="#26a69a"/>
<rect x="650.0" y="349.2" width="1" height="70.8" fill="#26a69a"/>
<rect x="649.0" y="362.1" width="3" height="57.5" fill="#26a69a"/>
<rect x="656.0" y="323.1" width="1" height="42.9" fill="#26a69a"/>
<rect x="655.0" y="344.2" width="3" height="18.4" fill="#26a69a"/>
<rect x="661.0" y="340.0" width="1" height="42.7" fill="#ef5350"/>
<rect x="660.0" y="344.2" width="3" height="21.4" fill="#ef5350"/>
<rect x="666.0" y="356.2" width="1" height="46.6" fill="#ef5350"/>
<rect x="665.0" y="365.2" width="3" height="11.5" fill="#ef5350"/>
<rect x="671.0" y="373.0" width="1" height="31.7" fill="#ef5350"/>
<rect x="670.0" y="376.0" width="3" height="26.1" fill="#ef5350"/>
<rect x="676.0" y="362.1" width="1" height="53.6" fill="#26a69a"/>
<rect x="675.0" y="377.2" width="3" height="24.4" fill="#26a69a"/>
<rect x="682.0" y="363.0" width="1" height="31.9" fill="#ef5350"/>
<rect x="681.0" y="377.2" width="3" height="2.5" fill="#ef5350"/>
<rect x="687.0" y="365.1" width="1" height="33.7" fill="#ef5350"/>
<rect x="686.0" y="379.3" width="3" height="3.4" fill="#ef5350"/>
<rect x="692.0" y="338.0" width="1" height="50.7" fill="#26a69a"/>
<rect x="691.0" y="349.9" width="3" height="32.8" fill="#26a69a"/>
<rect x="697.0" y="341.0" width="1" height="22.8" fill="#ef5350"/>
<rect x="696.0" y="349.9" width="3" height="13.1" fill="#ef5350"/>
<rect x="702.0" y="331.0" width="1" height="32.8" fill="#26a69a"/>
<rect x="701.0" y="335.0" width="3" height="27.9" fill="#26a69a"/>
<rect x="707.0" y="272.1" width="1" height="66.8" fill="#26a69a"/>
<rect x="706.0" y="307.1" width="3" height="28.6" fill="#26a69a"/>
<rect x="713.0" y="283.1" width="1" height="24.7" fill="#26a69a"/>
<rect x="712.0" y="296.0" width="3" height="11.9" fill="#26a69a"/>
<rect x="718.0" y="244.0" width="1" height="54.9" fill="#26a69a"/>
<rect x="717.0" y="270.3" width="3" height="25.4" fill="#26a69a"/>
<rect x="723.0" y="264.0" width="1" height="31.0" fill="#ef5350"/>
<rect x="722.0" y="269.0" width="3" height="21.7" fill="#ef5350"/>
<rect x="728.0" y="278.1" width="1" height="29.7" fill="#ef5350"/>
<rect x="727.0" y="290.3" width="3" height="7.1" fill="#ef5350"/>
<rect x="733.0" y="284.0" width="1" height="23.9" fill="#ef5350"/>
<rect x="732.0" y="297.1" width="3" height="5.7" fill="#ef5350"/>
<rect x="739.0" y="282.1" width="1" height="28.9" fill="#26a69a"/>
<rect x="738.0" y="292.1" width="3" height="10.4" fill="#26a69a"/>
<rect x="744.0" y="267.1" width="1" height="28.6" fill="#26a69a"/>
<rect x="743.0" y="275.3" width="3" height="17.3" fill="#26a69a"/>
<rect x="749.0" y="262.1" width="1" height="24.6" fill="#26a69a"/>
<rect x="748.0" y="263.1" width="3" height="12.6" fill="#26a69a"/>
<rect x="754.0" y="254.0" width="1" height="39.9" fill="#ef5350"/>
<rect x="753.0" y="263.1" width="3" height="6.6" fill="#ef5350"/>
<rect x="759.0" y="266.1" width="1" height="38.6" fill="#ef5350"/>
<rect x="758.0" y="268.9" width="3" height="35.9" fill="#ef5350"/>
<rect x="765.0" y="278.1" width="1" height="35.4" fill="#26a69a"/>
<rect x="764.0" y="297.1" width="3" height="7.6" fill="#26a69a"/>
<rect x="770.0" y="283.1" width="1" height="18.6" fill="#26a69a"/>
<rect x="769.0" y="287.1" width="3" height="10.4" fill="#26a69a"/>
<rect x="775.0" y="257.1" width="1" height="33.9" fill="#26a69a"/>
<rect x="774.0" y="271.1" width="3" height="16.6" fill="#26a69a"/>
<rect x="780.0" y="253.3" width="1" height="19.7" fill="#26a69a"/>
<rect x="779.0" y="257.9" width="3" height="13.2" fill="#26a69a"/>
<rect x="785.0" y="257.1" width="1" height="12.7" fill="#ef5350"/>
<rect x="784.0" y="257.6" width="3" height="11.5" fill="#ef5350"/>
<rect x="791.0" y="184.0" width="1" height="85.9" fill="#26a69a"/>
<rect x="790.0" y="196.0" width="3" height="72.8" fill="#26a69a"/>
<rect x="796.0" y="139.0" width="1" height="59.9" fill="#26a69a"/>
<rect x="795.0" y="169.1" width="3" height="27.7" fill="#26a69a"/>
<rect x="801.0" y="150.1" width="1" height="43.7" fill="#26a69a"/>
<rect x="800.0" y="164.0" width="3" height="5.8" fill="#26a69a"/>
<rect x="806.0" y="99.2" width="1" height="71.8" fill="#26a69a"/>
<rect x="805.0" y="130.0" width="3" height="34.7" fill="#26a69a"/>
<rect x="811.0" y="114.1" width="1" height="175.7" fill="#ef5350"/>
<rect x="810.0" y="130.0" width="3" height="46.7" fill="#ef5350"/>
<rect x="816.0" y="151.2" width="1" height="131.9" fill="#ef5350"/>
<rect x="815.0" y="175.9" width="3" height="48.6" fill="#ef5350"/>
<rect x="822.0" y="162.8" width="1" height="78.0" fill="#26a69a"/>
<rect x="821.0" y="163.9" width="3" height="60.6" fill="#26a69a"/>
<rect x="827.0" y="131.1" width="1" height="53.8" fill="#ef5350"/>
<rect x="826.0" y="163.9" width="3" height="17.1" fill="#ef5350"/>
<rect x="832.0" y="171.0" width="1" height="55.8" fill="#ef5350"/>
<rect x="831.0" y="180.0" width="3" height="16.8" fill="#ef5350"/>
<rect x="837.0" y="170.0" width="1" height="49.9" fill="#ef5350"/>
<rect x="836.0" y="196.0" width="3" height="18.7" fill="#ef5350"/>
<rect x="842.0" y="177.0" width="1" height="57.6" fill="#26a69a"/>
<rect x="841.0" y="183.0" width="3" height="32.7" fill="#26a69a"/>
<rect x="848.0" y="130.0" width="1" height="93.4" fill="#ef5350"/>
<rect x="847.0" y="183.0" width="3" height="33.0" fill="#ef5350"/>
<rect x="853.0" y="195.1" width="1" height="32.9" fill="#26a69a"/>
<rect x="852.0" y="206.0" width="3" height="10.4" fill="#26a69a"/>
<rect x="858.0" y="199.0" width="1" height="24.0" fill="#ef5350"/>
<rect x="857.0" y="206.0" width="3" height="5.3" fill="#ef5350"/>
<rect x="863.0" y="204.1" width="1" height="29.7" fill="#ef5350"/>
<rect x="862.0" y="211.8" width="3" height="15.0" fill="#ef5350"/>
<rect x="868.0" y="216.0" width="1" height="46.8" fill="#ef5350"/>
<rect x="867.0" y="226.2" width="3" height="16.8" fill="#ef5350"/>
<rect x="874.0" y="222.1" width="1" height="37.8" fill="#ef5350"/>
<rect x="873.0" y="242.2" width="3" height="11.3" fill="#ef5350"/>
<rect x="879.0" y="247.0" width="1" height="36.8" fill="#ef5350"/>
<rect x="878.0" y="253.1" width="3" height="12.6" fill="#ef5350"/>
<rect x="884.0" y="260.1" width="1" height="13.7" fill="#ef5350"/>
<rect x="883.0" y="265.2" width="3" height="5.7" fill="#ef5350"/>
<rect x="889.0" y="261.2" width="1" height="22.6" fill="#26a69a"/>
<rect x="888.0" y="265.2" width="3" height="5.7" fill="#26a69a"/>
<rect x="894.0" y="249.9" width="1" height="15.8" fill="#26a69a"/>
<rect x="893.0" y="263.3" width="3" height="2.4" fill="#26a69a"/>
<rect x="900.0" y="258.0" width="1" height="22.9" fill="#ef5350"/>
<rect x="899.0" y="263.3" width="3" height="7.6" fill="#ef5350"/>
<rect x="905.0" y="263.3" width="1" height="30.2" fill="#ef5350"/>
<rect x="904.0" y="269.3" width="3" height="13.4" fill="#ef5350"/>
<rect x="910.0" y="281.1" width="1" height="41.5" fill="#ef5350"/>
<rect x="909.0" y="282.2" width="3" height="20.7" fill="#ef5350"/>
<rect x="915.0" y="274.1" width="1" height="42.3" fill="#26a69a"/>
<rect x="914.0" y="283.8" width="3" height="19.1" fill="#26a69a"/>
<rect x="920.0" y="235.0" width="1" height="50.7" fill="#26a69a"/>
<rect x="919.0" y="243.0" width="3" height="41.7" fill="#26a69a"/>
<rect x="926.0" y="232.1" width="1" height="13.7" fill="#26a69a"/>
<rect x="925.0" y="238.9" width="3" height="5.3" fill="#26a69a"/>
<rect x="931.0" y="222.0" width="1" height="29.5" fill="#26a69a"/>
<rect x="930.0" y="223.3" width="3" height="16.6" fill="#26a69a"/>
<rect x="936.0" y="206.0" width="1" height="35.0" fill="#ef5350"/>
<rect x="935.0" y="223.3" width="3" height="14.0" fill="#ef5350"/>
<rect x="941.0" y="218.9" width="1" height="27.8" fill="#ef5350"/>
<rect x="940.0" y="237.0" width="3" height="9.4" fill="#ef5350"/>
<rect x="946.0" y="226.2" width="1" height="23.4" fill="#26a69a"/>
<rect x="945.0" y="238.3" width="3" height="8.1" fill="#26a69a"/>
<rect x="951.0" y="186.0" width="1" height="52.6" fill="#26a69a"/>
<rect x="950.0" y="191.0" width="3" height="47.6" fill="#26a69a"/>
<rect x="957.0" y="134.0" width="1" height="63.6" fill="#26a69a"/>
<rect x="956.0" y="164.0" width="3" height="27.4" fill="#26a69a"/>
<rect x="962.0" y="148.1" width="1" height="27.6" fill="#26a69a"/>
<rect x="961.0" y="155.0" width="3" height="9.6" fill="#26a69a"/>
<rect x="967.0" y="140.0" width="1" height="21.7" fill="#26a69a"/>
<rect x="966.0" y="151.1" width="3" height="4.3" fill="#26a69a"/>
<rect x="972.0" y="111.0" width="1" height="54.7" fill="#26a69a"/>
<rect x="971.0" y="147.1" width="3" height="4.3" fill="#26a69a"/>
<rect x="977.0" y="131.0" width="1" height="47.9" fill="#ef5350"/>
<rect x="976.0" y="147.1" width="3" height="12.1" fill="#ef5350"/>
<rect x="983.0" y="137.9" width="1" height="22.9" fill="#26a69a"/>
<rect x="982.0" y="149.0" width="3" height="10.7" fill="#26a69a"/>
<rect x="988.0" y="142.9" width="1" height="53.6" fill="#ef5350"/>
<rect x="987.0" y="149.0" width="3" height="16.4" fill="#ef5350"/>
<rect x="993.0" y="165.0" width="1" height="16.7" fill="#ef5350"/>
<rect x="992.0" y="165.3" width="3" height="11.1" fill="#ef5350"/>
<rect x="998.0" y="173.1" width="1" height="20.7" fill="#ef5350"/>
<rect x="997.0" y="176.0" width="3" height="16.9" fill="#ef5350"/>
<rect x="1003.0" y="178.9" width="1" height="25.0" fill="#ef5350"/>
<rect x="1002.0" y="192.1" width="3" height="10.7" fill="#ef5350"/>
<rect x="1009.0" y="174.0" width="1" height="31.7" fill="#26a69a"/>
<rect x="1008.0" y="180.0" width="3" height="22.6" fill="#26a69a"/>
<rect x="1014.0" y="167.9" width="1" height="31.1" fill="#ef5350"/>
<rect x="1013.0" y="180.0" width="3" height="17.9" fill="#ef5350"/>
<rect x="1019.0" y="175.0" width="1" height="33.6" fill="#26a69a"/>
<rect x="1018.0" y="181.1" width="3" height="16.4" fill="#26a69a"/>
<rect x="1024.0" y="167.9" width="1" height="52.4" fill="#ef5350"/>
<rect x="1023.0" y="181.1" width="3" height="26.0" fill="#ef5350"/>
<rect x="1029.0" y="191.1" width="1" height="25.3" fill="#26a69a"/>
<rect x="1028.0" y="193.1" width="3" height="12.6" fill="#26a69a"/>
<rect x="1035.0" y="185.0" width="1" height="14.7" fill="#ef5350"/>
<rect x="1034.0" y="193.1" width="3" height="1.1" fill="#ef5350"/>
<rect x="1040.0" y="189.0" width="1" height="11.7" fill="#ef5350"/>
<rect x="1039.0" y="193.1" width="3" height="5.7" fill="#ef5350"/>
<rect x="1045.0" y="183.1" width="1" height="15.9" fill="#26a69a"/>
<rect x="1044.0" y="192.4" width="3" height="6.1" fill="#26a69a"/>
<rect x="1050.0" y="184.0" width="1" height="20.7" fill="#26a69a"/>
<rect x="1049.0" y="187.1" width="3" height="5.7" fill="#26a69a"/>
<rect x="1055.0" y="175.7" width="1" height="16.1" fill="#26a69a"/>
<rect x="1054.0" y="184.0" width="3" height="3.9" fill="#26a69a"/>
<rect x="1060.0" y="180.0" width="1" height="16.4" fill="#ef5350"/>
<rect x="1059.0" y="184.0" width="3" height="3.9" fill="#ef5350"/>
<rect x="1066.0" y="185.0" width="1" height="12.1" fill="#ef5350"/>
<rect x="1065.0" y="186.9" width="3" height="9.6" fill="#ef5350"/>
<rect x="1071.0" y="193.1" width="1" height="8.7" fill="#ef5350"/>
<rect x="1070.0" y="196.1" width="3" height="4.9" fill="#ef5350"/>
<rect x="1076.0" y="147.0" width="1" height="53.5" fill="#26a69a"/>
<rect x="1075.0" y="159.6" width="3" height="40.9" fill="#26a69a"/>
<rect x="1081.0" y="144.3" width="1" height="35.2" fill="#ef5350"/>
<rect x="1080.0" y="159.6" width="3" height="1.3" fill="#ef5350"/>
<rect x="1086.0" y="123.0" width="1" height="44.8" fill="#26a69a"/>
<rect x="1085.0" y="124.3" width="3" height="37.4" fill="#26a69a"/>
<rect x="1092.0" y="84.1" width="1" height="55.9" fill="#ef5350"/>
<rect x="1091.0" y="124.3" width="3" height="9.6" fill="#ef5350"/>
<rect x="1097.0" y="107.0" width="1" height="31.3" fill="#26a69a"/>
<rect x="1096.0" y="107.8" width="3" height="26.1" fill="#26a69a"/>
<rect x="1102.0" y="92.8" width="1" height="82.4" fill="#ef5350"/>
<rect x="1101.0" y="108.3" width="3" height="25.7" fill="#ef5350"/>
<rect x="1107.0" y="115.0" width="1" height="35.9" fill="#ef5350"/>
<rect x="1106.0" y="133.5" width="3" height="15.2" fill="#ef5350"/>
<rect x="1112.0" y="132.4" width="1" height="27.2" fill="#26a69a"/>
<rect x="1111.0" y="140.0" width="3" height="8.7" fill="#26a69a"/>
<rect x="1118.0" y="129.8" width="1" height="20.0" fill="#26a69a"/>
<rect x="1117.0" y="131.3" width="3" height="9.1" fill="#26a69a"/>
<rect x="1123.0" y="129.1" width="1" height="37.4" fill="#ef5350"/>
<rect x="1122.0" y="131.3" width="3" height="21.7" fill="#ef5350"/>
<rect x="1128.0" y="105.2" width="1" height="51.1" fill="#26a69a"/>
<rect x="1127.0" y="113.9" width="3" height="39.1" fill="#26a69a"/>
<rect x="1133.0" y="91.1" width="1" height="34.1" fill="#26a69a"/>
<rect x="1132.0" y="92.2" width="3" height="22.2" fill="#26a69a"/>
<rect x="1138.0" y="56.3" width="1" height="42.0" fill="#26a69a"/>
<rect x="1137.0" y="61.1" width="3" height="31.5" fill="#26a69a"/>
<rect x="1144.0" y="54.1" width="1" height="30.4" fill="#ef5350"/>
<rect x="1143.0" y="61.7" width="3" height="20.7" fill="#ef5350"/>
<rect x="1149.0" y="67.8" width="1" height="25.9" fill="#26a69a"/>
<rect x="1148.0" y="79.1" width="3" height="2.6" fill="#26a69a"/>
<rect x="1154.0" y="72.2" width="1" height="30.4" fill="#ef5350"/>
<rect x="1153.0" y="79.1" width="3" height="19.6" fill="#ef5350"/>
<rect x="1159.0" y="96.1" width="1" height="59.6" fill="#ef5350"/>
<rect x="1158.0" y="97.6" width="3" height="42.0" fill="#ef5350"/>
<rect x="1164.0" y="128.7" width="1" height="35.7" fill="#ef5350"/>
<rect x="1163.0" y="138.9" width="3" height="12.4" fill="#ef5350"/>
<rect x="1169.0" y="124.3" width="1" height="29.1" fill="#26a69a"/>
<rect x="1168.0" y="137.2" width="3" height="14.1" fill="#26a69a"/>
<rect x="1175.0" y="119.3" width="1" height="28.3" fill="#ef5350"/>
<rect x="1174.0" y="137.2" width="3" height="3.9" fill="#ef5350"/>
<rect x="1180.0" y="118.7" width="1" height="26.1" fill="#26a69a"/>
<rect x="1179.0" y="125.4" width="3" height="15.0" fill="#26a69a"/>
<rect x="1185.0" y="92.8" width="1" height="30.9" fill="#26a69a"/>
<rect x="1184.0" y="111.3" width="3" height="12.0" fill="#26a69a"/>
<rect x="1190.0" y="103.0" width="1" height="41.7" fill="#ef5350"/>
<rect x="1189.0" y="110.7" width="3" height="1.1" fill="#ef5350"/>
<rect x="1195.0" y="95.4" width="1" height="20.2" fill="#ef5350"/>
<rect x="1194.0" y="111.3" width="3" height="2.2" fill="#ef5350"/>
<rect x="1201.0" y="98.3" width="1" height="22.6" fill="#26a69a"/>
<rect x="1200.0" y="102.4" width="3" height="10.0" fill="#26a69a"/>
<rect x="1206.0" y="85.0" width="1" height="24.1" fill="#26a69a"/>
<rect x="1205.0" y="91.3" width="3" height="11.3" fill="#26a69a"/>
<rect x="1211.0" y="91.3" width="1" height="17.2" fill="#ef5350"/>
<rect x="1210.0" y="91.3" width="3" height="16.1" fill="#ef5350"/>
<line x1="11" x2="1304" y1="107.5" y2="107.5" stroke="#ef5350" stroke-width="1" stroke-dasharray="1 2"/>
</g>
<circle cx="1211.5" cy="550.4" r="11.8" fill="#fff"/>
<path d="M1220.82,547.73 A9.7,9.7 0 1 1 1214.50,541.17" fill="none" stroke="#9c27b0" stroke-width="1.6" stroke-linecap="butt"/>
<path transform="translate(1211.5,550.4) scale(1.08)" d="M2.6,-5.2 L-4.2,0.6 L-0.6,0.6 L-3.2,5.4 L4,-0.6 L0.4,-0.6 Z" fill="#9c27b0"/>
<circle cx="1218.4" cy="543.6" r="2.6" fill="#f23645"/>
<path d="M12.5,643.5 L17.5,661.7 L22.5,647.3 L28.5,669.6 L33.5,682.1 L38.5,663.8 L43.5,679.1 L48.5,673.0 L53.5,667.8 L59.5,667.8 L64.5,674.8 L69.5,676.5 L74.5,664.9 L79.5,661.7 L85.5,666.4 L90.5,671.3 L95.5,667.0 L100.5,658.3 L105.5,659.7 L111.5,662.1 L116.5,666.6 L121.5,664.3 L126.5,661.7 L131.5,667.8 L137.5,671.3 L142.5,666.1 L147.5,697.4 L152.5,702.1 L157.5,684.0 L162.5,689.6 L168.5,684.7 L173.5,715.1 L178.5,720.9 L183.5,696.5 L188.5,699.7 L194.5,707.5 L199.5,698.6 L204.5,704.3 L209.5,708.7 L214.5,702.6 L220.5,685.2 L225.5,677.7 L230.5,677.4 L235.5,682.6 L240.5,692.7 L246.5,682.6 L251.5,692.7 L256.5,697.4 L261.5,686.4 L266.5,667.0 L271.5,651.7 L277.5,662.3 L282.5,658.8 L287.5,671.3 L292.5,687.0 L297.5,696.5 L303.5,709.2 L308.5,691.0 L313.5,683.5 L318.5,670.8 L323.5,686.4 L329.5,671.7 L334.5,680.0 L339.5,696.0 L344.5,697.7 L349.5,668.7 L355.5,649.9 L360.5,653.4 L365.5,674.4 L370.5,681.2 L375.5,685.6 L380.5,674.8 L386.5,681.7 L391.5,695.1 L396.5,695.7 L401.5,696.2 L406.5,706.4 L412.5,698.8 L417.5,698.6 L422.5,691.8 L427.5,692.2 L432.5,697.9 L438.5,699.7 L443.5,697.9 L448.5,704.0 L453.5,704.3 L458.5,702.1 L464.5,701.7 L469.5,702.6 L474.5,702.6 L479.5,695.4 L484.5,688.9 L489.5,690.4 L495.5,688.3 L500.5,649.1 L505.5,664.3 L510.5,655.9 L515.5,653.7 L521.5,672.6 L526.5,652.0 L531.5,643.9 L536.5,644.3 L541.5,665.0 L547.5,686.7 L552.5,695.4 L557.5,698.3 L562.5,688.3 L567.5,685.0 L573.5,680.2 L578.5,674.3 L583.5,615.0 L588.5,623.3 L593.5,604.6 L598.5,604.1 L604.5,613.9 L609.5,609.1 L614.5,639.6 L619.5,630.2 L624.5,623.3 L630.5,617.2 L635.5,613.9 L640.5,627.0 L645.5,597.6 L650.5,576.3 L656.5,573.0 L661.5,603.0 L666.5,618.3 L671.5,645.9 L676.5,632.0 L682.5,635.0 L687.5,637.8 L692.5,622.0 L697.5,634.6 L702.5,621.5 L707.5,611.7 L713.5,608.5 L718.5,600.4 L723.5,620.0 L728.5,625.2 L733.5,630.2 L739.5,626.5 L744.5,619.3 L749.5,615.0 L754.5,620.4 L759.5,652.6 L765.5,648.7 L770.5,643.3 L775.5,635.2 L780.5,629.6 L785.5,638.5 L791.5,611.7 L796.5,604.8 L801.5,604.1 L806.5,596.1 L811.5,630.2 L816.5,657.8 L822.5,638.5 L827.5,647.0 L832.5,654.6 L837.5,662.8 L842.5,652.6 L848.5,667.2 L853.5,663.5 L858.5,666.1 L863.5,672.6 L868.5,680.2 L874.5,685.2 L879.5,690.7 L884.5,693.3 L889.5,690.0 L894.5,689.3 L900.5,693.3 L905.5,699.1 L910.5,709.1 L915.5,695.4 L920.5,672.0 L926.5,669.8 L931.5,661.1 L936.5,669.8 L941.5,675.9 L946.5,671.1 L951.5,647.6 L957.5,636.7 L962.5,633.5 L967.5,632.0 L972.5,629.8 L977.5,640.0 L983.5,635.7 L988.5,649.3 L993.5,658.5 L998.5,668.9 L1003.5,675.9 L1009.5,662.8 L1014.5,674.1 L1019.5,665.0 L1024.5,680.2 L1029.5,673.0 L1035.5,673.0 L1040.5,676.3 L1045.5,672.2 L1050.5,668.7 L1055.5,666.5 L1060.5,670.0 L1066.5,677.4 L1071.5,680.7 L1076.5,650.4 L1081.5,651.3 L1086.5,630.7 L1092.5,638.9 L1097.5,627.6 L1102.5,648.3 L1107.5,661.1 L1112.5,655.9 L1118.5,651.5 L1123.5,667.6 L1128.5,647.2 L1133.5,636.7 L1138.5,625.9 L1144.5,640.7 L1149.5,640.0 L1154.5,653.0 L1159.5,678.7 L1164.5,685.0 L1169.5,677.4 L1175.5,679.1 L1180.5,669.3 L1185.5,662.8 L1190.5,663.5 L1195.5,663.3 L1201.5,657.4 L1206.5,650.4 L1211.5,665.0 L1211.5,625.5 L12.5,625.5 Z" fill="url(#ob)" clip-path="url(#above70)"/>
<path d="M12.5,643.5 L17.5,661.7 L22.5,647.3 L28.5,669.6 L33.5,682.1 L38.5,663.8 L43.5,679.1 L48.5,673.0 L53.5,667.8 L59.5,667.8 L64.5,674.8 L69.5,676.5 L74.5,664.9 L79.5,661.7 L85.5,666.4 L90.5,671.3 L95.5,667.0 L100.5,658.3 L105.5,659.7 L111.5,662.1 L116.5,666.6 L121.5,664.3 L126.5,661.7 L131.5,667.8 L137.5,671.3 L142.5,666.1 L147.5,697.4 L152.5,702.1 L157.5,684.0 L162.5,689.6 L168.5,684.7 L173.5,715.1 L178.5,720.9 L183.5,696.5 L188.5,699.7 L194.5,707.5 L199.5,698.6 L204.5,704.3 L209.5,708.7 L214.5,702.6 L220.5,685.2 L225.5,677.7 L230.5,677.4 L235.5,682.6 L240.5,692.7 L246.5,682.6 L251.5,692.7 L256.5,697.4 L261.5,686.4 L266.5,667.0 L271.5,651.7 L277.5,662.3 L282.5,658.8 L287.5,671.3 L292.5,687.0 L297.5,696.5 L303.5,709.2 L308.5,691.0 L313.5,683.5 L318.5,670.8 L323.5,686.4 L329.5,671.7 L334.5,680.0 L339.5,696.0 L344.5,697.7 L349.5,668.7 L355.5,649.9 L360.5,653.4 L365.5,674.4 L370.5,681.2 L375.5,685.6 L380.5,674.8 L386.5,681.7 L391.5,695.1 L396.5,695.7 L401.5,696.2 L406.5,706.4 L412.5,698.8 L417.5,698.6 L422.5,691.8 L427.5,692.2 L432.5,697.9 L438.5,699.7 L443.5,697.9 L448.5,704.0 L453.5,704.3 L458.5,702.1 L464.5,701.7 L469.5,702.6 L474.5,702.6 L479.5,695.4 L484.5,688.9 L489.5,690.4 L495.5,688.3 L500.5,649.1 L505.5,664.3 L510.5,655.9 L515.5,653.7 L521.5,672.6 L526.5,652.0 L531.5,643.9 L536.5,644.3 L541.5,665.0 L547.5,686.7 L552.5,695.4 L557.5,698.3 L562.5,688.3 L567.5,685.0 L573.5,680.2 L578.5,674.3 L583.5,615.0 L588.5,623.3 L593.5,604.6 L598.5,604.1 L604.5,613.9 L609.5,609.1 L614.5,639.6 L619.5,630.2 L624.5,623.3 L630.5,617.2 L635.5,613.9 L640.5,627.0 L645.5,597.6 L650.5,576.3 L656.5,573.0 L661.5,603.0 L666.5,618.3 L671.5,645.9 L676.5,632.0 L682.5,635.0 L687.5,637.8 L692.5,622.0 L697.5,634.6 L702.5,621.5 L707.5,611.7 L713.5,608.5 L718.5,600.4 L723.5,620.0 L728.5,625.2 L733.5,630.2 L739.5,626.5 L744.5,619.3 L749.5,615.0 L754.5,620.4 L759.5,652.6 L765.5,648.7 L770.5,643.3 L775.5,635.2 L780.5,629.6 L785.5,638.5 L791.5,611.7 L796.5,604.8 L801.5,604.1 L806.5,596.1 L811.5,630.2 L816.5,657.8 L822.5,638.5 L827.5,647.0 L832.5,654.6 L837.5,662.8 L842.5,652.6 L848.5,667.2 L853.5,663.5 L858.5,666.1 L863.5,672.6 L868.5,680.2 L874.5,685.2 L879.5,690.7 L884.5,693.3 L889.5,690.0 L894.5,689.3 L900.5,693.3 L905.5,699.1 L910.5,709.1 L915.5,695.4 L920.5,672.0 L926.5,669.8 L931.5,661.1 L936.5,669.8 L941.5,675.9 L946.5,671.1 L951.5,647.6 L957.5,636.7 L962.5,633.5 L967.5,632.0 L972.5,629.8 L977.5,640.0 L983.5,635.7 L988.5,649.3 L993.5,658.5 L998.5,668.9 L1003.5,675.9 L1009.5,662.8 L1014.5,674.1 L1019.5,665.0 L1024.5,680.2 L1029.5,673.0 L1035.5,673.0 L1040.5,676.3 L1045.5,672.2 L1050.5,668.7 L1055.5,666.5 L1060.5,670.0 L1066.5,677.4 L1071.5,680.7 L1076.5,650.4 L1081.5,651.3 L1086.5,630.7 L1092.5,638.9 L1097.5,627.6 L1102.5,648.3 L1107.5,661.1 L1112.5,655.9 L1118.5,651.5 L1123.5,667.6 L1128.5,647.2 L1133.5,636.7 L1138.5,625.9 L1144.5,640.7 L1149.5,640.0 L1154.5,653.0 L1159.5,678.7 L1164.5,685.0 L1169.5,677.4 L1175.5,679.1 L1180.5,669.3 L1185.5,662.8 L1190.5,663.5 L1195.5,663.3 L1201.5,657.4 L1206.5,650.4 L1211.5,665.0" fill="none" stroke="#9d55c4" stroke-width="3.2" stroke-linejoin="round" stroke-linecap="round"/>
<rect x="11" y="562.6" width="1361" height="1.5" fill="#e0e3eb"/>
<rect x="11" y="741.9" width="1361" height="1" fill="#e0e3eb"/>
<rect x="1303.8" y="28" width="1" height="742" fill="#e0e3eb"/>
<rect x="10" y="27" width="1362" height="743" fill="none" stroke="#ebedf3" stroke-width="2"/>
<text x="10.4" y="18.9" font-size="12.6" fill="#131722" text-anchor="start" font-weight="normal" textLength="130.9" lengthAdjust="spacingAndGlyphs">ranadagger published on</text>
<text x="145.8" y="18.9" font-size="12.6" fill="#131722" text-anchor="start" font-weight="normal" textLength="92.2" lengthAdjust="spacingAndGlyphs">TradingView.com,</text>
<text x="244.1" y="18.9" font-size="12.6" fill="#131722" text-anchor="start" font-weight="normal" textLength="126.3" lengthAdjust="spacingAndGlyphs">Jun 28, 2024 14:43 UTC</text>
<text x="18.0" y="46" font-size="13" fill="#131722" text-anchor="start" font-weight="normal" textLength="131.5" lengthAdjust="spacingAndGlyphs">Toncoin/Tether, 1D, OKX</text>
<text x="156.4" y="46" font-size="13" fill="#131722" text-anchor="start" font-weight="normal" textLength="7.6" lengthAdjust="spacingAndGlyphs">O</text>
<text x="165.3" y="46" font-size="13" fill="#ef5350" text-anchor="start" font-weight="normal" textLength="28.6" lengthAdjust="spacingAndGlyphs">7.784</text>
<text x="201.6" y="46" font-size="13" fill="#131722" text-anchor="start" font-weight="normal" textLength="7.2" lengthAdjust="spacingAndGlyphs">H</text>
<text x="210.2" y="46" font-size="13" fill="#ef5350" text-anchor="start" font-weight="normal" textLength="28.5" lengthAdjust="spacingAndGlyphs">7.784</text>
<text x="246.6" y="46" font-size="13" fill="#131722" text-anchor="start" font-weight="normal" textLength="5.2" lengthAdjust="spacingAndGlyphs">L</text>
<text x="252.4" y="46" font-size="13" fill="#ef5350" text-anchor="start" font-weight="normal" textLength="28.8" lengthAdjust="spacingAndGlyphs">7.526</text>
<text x="289" y="46" font-size="13" fill="#131722" text-anchor="start" font-weight="normal" textLength="7" lengthAdjust="spacingAndGlyphs">C</text>
<text x="296.8" y="46" font-size="13" fill="#ef5350" text-anchor="start" font-weight="normal" textLength="28.8" lengthAdjust="spacingAndGlyphs">7.554</text>
<text x="334" y="46" font-size="13" fill="#ef5350" text-anchor="start" font-weight="normal" textLength="34" lengthAdjust="spacingAndGlyphs">−0.230</text>
<text x="373.4" y="46" font-size="13" fill="#ef5350" text-anchor="start" font-weight="normal" textLength="44.3" lengthAdjust="spacingAndGlyphs">(−2.95%)</text>
<text x="18.7" y="63" font-size="13" fill="#131722" text-anchor="start" font-weight="normal" textLength="139.1" lengthAdjust="spacingAndGlyphs">EMA (20, close, 0, SMA, 5)</text>
<text x="165.6" y="63" font-size="13" fill="#2962ff" text-anchor="start" font-weight="normal" textLength="29.4" lengthAdjust="spacingAndGlyphs">7.394</text>
<text x="18.0" y="80" font-size="13" fill="#131722" text-anchor="start" font-weight="normal" textLength="139.8" lengthAdjust="spacingAndGlyphs">SMA (50, close, 0, SMA, 5)</text>
<text x="164.9" y="80" font-size="13" fill="#f23645" text-anchor="start" font-weight="normal" textLength="29" lengthAdjust="spacingAndGlyphs">6.999</text>
<text x="18.5" y="583" font-size="13" fill="#131722" text-anchor="start" font-weight="normal" textLength="140.1" lengthAdjust="spacingAndGlyphs">RSI (14, close, SMA, 14, 2)</text>
<text x="166.5" y="583" font-size="13" fill="#9d55c4" text-anchor="start" font-weight="normal" textLength="28.8" lengthAdjust="spacingAndGlyphs">55.16</text>
<ellipse cx="207" cy="579" rx="2.9" ry="3.7" fill="none" stroke="#131722" stroke-width="1.25"/>
<line x1="203.7" y1="583.9" x2="210.3" y2="574.1" stroke="#131722" stroke-width="0.9"/>
<ellipse cx="222.2" cy="579" rx="2.9" ry="3.7" fill="none" stroke="#131722" stroke-width="1.25"/>
<line x1="218.89999999999998" y1="583.9" x2="225.5" y2="574.1" stroke="#131722" stroke-width="0.9"/>
<ellipse cx="237.2" cy="579" rx="2.9" ry="3.7" fill="none" stroke="#131722" stroke-width="1.25"/>
<line x1="233.89999999999998" y1="583.9" x2="240.5" y2="574.1" stroke="#131722" stroke-width="0.9"/>
<ellipse cx="253.4" cy="579" rx="2.9" ry="3.7" fill="none" stroke="#131722" stroke-width="1.25"/>
<line x1="250.1" y1="583.9" x2="256.7" y2="574.1" stroke="#131722" stroke-width="0.9"/>
<text x="1313.3" y="79.0" font-size="13" fill="#131722" text-anchor="start" font-weight="normal" textLength="29.4" lengthAdjust="spacingAndGlyphs">8.000</text>
<text x="1313.3" y="188.5" font-size="13" fill="#131722" text-anchor="start" font-weight="normal" textLength="29.4" lengthAdjust="spacingAndGlyphs">6.500</text>
<text x="1313.3" y="225.0" font-size="13" fill="#131722" text-anchor="start" font-weight="normal" textLength="29.4" lengthAdjust="spacingAndGlyphs">6.000</text>
<text x="1313.3" y="261.5" font-size="13" fill="#131722" text-anchor="start" font-weight="normal" textLength="29.4" lengthAdjust="spacingAndGlyphs">5.500</text>
<text x="1313.3" y="298.0" font-size="13" fill="#131722" text-anchor="start" font-weight="normal" textLength="29.4" lengthAdjust="spacingAndGlyphs">5.000</text>
<text x="1313.3" y="334.5" font-size="13" fill="#131722" text-anchor="start" font-weight="normal" textLength="29.4" lengthAdjust="spacingAndGlyphs">4.500</text>
<text x="1313.3" y="371.0" font-size="13" fill="#131722" text-anchor="start" font-weight="normal" textLength="29.4" lengthAdjust="spacingAndGlyphs">4.000</text>
<text x="1313.3" y="407.5" font-size="13" fill="#131722" text-anchor="start" font-weight="normal" textLength="29.4" lengthAdjust="spacingAndGlyphs">3.500</text>
<text x="1313.3" y="444.0" font-size="13" fill="#131722" text-anchor="start" font-weight="normal" textLength="29.4" lengthAdjust="spacingAndGlyphs">3.000</text>
<text x="1313.3" y="480.5" font-size="13" fill="#131722" text-anchor="start" font-weight="normal" textLength="29.4" lengthAdjust="spacingAndGlyphs">2.500</text>
<text x="1313.3" y="517.0" font-size="13" fill="#131722" text-anchor="start" font-weight="normal" textLength="29.4" lengthAdjust="spacingAndGlyphs">2.000</text>
<text x="1313.3" y="553.5" font-size="13" fill="#131722" text-anchor="start" font-weight="normal" textLength="29.4" lengthAdjust="spacingAndGlyphs">1.500</text>
<text x="1313.2" y="602.3" font-size="13" fill="#131722" text-anchor="start" font-weight="normal" textLength="29.1" lengthAdjust="spacingAndGlyphs">80.00</text>
<text x="1313.2" y="656" font-size="13" fill="#131722" text-anchor="start" font-weight="normal" textLength="29.1" lengthAdjust="spacingAndGlyphs">60.00</text>
<text x="1313.2" y="710" font-size="13" fill="#131722" text-anchor="start" font-weight="normal" textLength="29.1" lengthAdjust="spacingAndGlyphs">40.00</text>
<rect x="1308" y="30.7" width="60.2" height="26.4" rx="4" ry="4" fill="#fff" stroke="#e0e3eb" stroke-width="1"/>
<text x="1317.6" y="48.9" font-size="12.6" fill="#131722" text-anchor="start" font-weight="normal" textLength="26.8" lengthAdjust="spacingAndGlyphs">USDT</text>
<path d="M1304.2,81.8 L1345.8,81.8 Q1347.8,81.8 1347.8,83.8 L1347.8,96.9 Q1347.8,98.9 1345.8,98.9 L1304.2,98.9 Z" fill="#0000ff"/>
<text x="1313.4" y="95" font-size="12.4" fill="#fff" text-anchor="start" font-weight="bold" textLength="29.3" lengthAdjust="spacingAndGlyphs">7.670</text>
<path d="M1304.3,306.2 L1346,306.2 Q1348,306.2 1348,308.2 L1348,320.8 Q1348,322.8 1346,322.8 L1304.3,322.8 Z" fill="#0000ff"/>
<text x="1313.4" y="319" font-size="12.4" fill="#fff" text-anchor="start" font-weight="bold" textLength="29.3" lengthAdjust="spacingAndGlyphs">4.720</text>
<path d="M1246.2,99.1 L1302.9,99.1 L1302.9,115.9 L1246.2,115.9 Q1244.2,115.9 1244.2,113.9 L1244.2,101.1 Q1244.2,99.1 1246.2,99.1 Z" fill="#ef5350"/>
<text x="1249.2" y="111.8" font-size="12.4" fill="#fff" text-anchor="start" font-weight="bold" textLength="47.4" lengthAdjust="spacingAndGlyphs">TONUSDT</text>
<path d="M1304.2,99 L1366.1,99 Q1368.1,99 1368.1,101 L1368.1,141.8 Q1368.1,143.8 1366.1,143.8 L1304.2,143.8 Z" fill="#ef5350"/>
<text x="1313.4" y="111.8" font-size="12.4" fill="#fff" text-anchor="start" font-weight="bold" textLength="29.3" lengthAdjust="spacingAndGlyphs">7.554</text>
<text x="1313.1" y="125.7" font-size="12.4" fill="#fff" text-anchor="start" font-weight="bold" textLength="49.1" lengthAdjust="spacingAndGlyphs">+206.54%</text>
<text x="1313" y="139.7" font-size="12.4" fill="#fff" text-anchor="start" font-weight="bold" textLength="46.1" lengthAdjust="spacingAndGlyphs" fill-opacity="0.8">09:16:15</text>
<path d="M1273,144.2 L1302.9,144.2 L1302.9,161 L1273,161 Q1271,161 1271,159 L1271,146.2 Q1271,144.2 1273,144.2 Z" fill="#2962ff"/>
<text x="1276.2" y="157" font-size="12.4" fill="#fff" text-anchor="start" font-weight="bold" textLength="21.6" lengthAdjust="spacingAndGlyphs">EMA</text>
<path d="M1304.3,144.2 L1346,144.2 Q1348,144.2 1348,146.2 L1348,159 Q1348,161 1346,161 L1304.3,161 Z" fill="#2962ff"/>
<text x="1313.4" y="157" font-size="12.4" fill="#fff" text-anchor="start" font-weight="bold" textLength="29.3" lengthAdjust="spacingAndGlyphs">7.394</text>
<path d="M1253.9,161.3 L1302.9,161.3 L1302.9,177.8 L1253.9,177.8 Q1251.9,177.8 1251.9,175.8 L1251.9,163.3 Q1251.9,161.3 1253.9,161.3 Z" fill="#f23645"/>
<text x="1256.8" y="174" font-size="12.4" fill="#fff" text-anchor="start" font-weight="bold" textLength="41" lengthAdjust="spacingAndGlyphs">SMA:MA</text>
<path d="M1304.3,161.3 L1346,161.3 Q1348,161.3 1348,163.3 L1348,175.8 Q1348,177.8 1346,177.8 L1304.3,177.8 Z" fill="#f23645"/>
<text x="1313.4" y="174" font-size="12.4" fill="#fff" text-anchor="start" font-weight="bold" textLength="29.3" lengthAdjust="spacingAndGlyphs">6.999</text>
<path d="M1279,656 L1302.9,656 L1302.9,672.8 L1279,672.8 Q1277,672.8 1277,670.8 L1277,658 Q1277,656 1279,656 Z" fill="#9d55c4"/>
<text x="1282.4" y="668.9" font-size="12.4" fill="#fff" text-anchor="start" font-weight="bold" textLength="15.5" lengthAdjust="spacingAndGlyphs">RSI</text>
<path d="M1304.3,656 L1345.8,656 Q1347.8,656 1347.8,658 L1347.8,670.8 Q1347.8,672.8 1345.8,672.8 L1304.3,672.8 Z" fill="#9d55c4"/>
<text x="1313.3" y="668.9" font-size="12.4" fill="#fff" text-anchor="start" font-weight="bold" textLength="29" lengthAdjust="spacingAndGlyphs">55.16</text>
<text x="111.05" y="760" font-size="13" fill="#131722" text-anchor="start" font-weight="normal" textLength="19.5" lengthAdjust="spacingAndGlyphs">Dec</text>
<text x="268.3" y="760" font-size="13" fill="#131722" text-anchor="start" font-weight="bold" textLength="27.4" lengthAdjust="spacingAndGlyphs">2024</text>
<text x="434.15000000000003" y="760" font-size="13" fill="#131722" text-anchor="start" font-weight="normal" textLength="18.5" lengthAdjust="spacingAndGlyphs">Feb</text>
<text x="583.75" y="760" font-size="13" fill="#131722" text-anchor="start" font-weight="normal" textLength="19.5" lengthAdjust="spacingAndGlyphs">Mar</text>
<text x="745.3" y="760" font-size="13" fill="#131722" text-anchor="start" font-weight="normal" textLength="18" lengthAdjust="spacingAndGlyphs">Apr</text>
<text x="899.55" y="760" font-size="13" fill="#131722" text-anchor="start" font-weight="normal" textLength="21.5" lengthAdjust="spacingAndGlyphs">May</text>
<text x="1062.3" y="760" font-size="13" fill="#131722" text-anchor="start" font-weight="normal" textLength="18" lengthAdjust="spacingAndGlyphs">Jun</text>
<text x="1220.05" y="760" font-size="13" fill="#131722" text-anchor="start" font-weight="normal" textLength="14.5" lengthAdjust="spacingAndGlyphs">Jul</text>
<g transform="translate(10.1,779.9) scale(0.55)" fill="#131722"><path d="M14 22H7V11H0V4h14v18zM28 22h-8l7.5-18h8L28 22z"/><circle cx="20" cy="8" r="4"/></g>
<text x="32.9" y="791.8" font-size="13" fill="#131722" text-anchor="start" font-weight="normal" textLength="70.6" lengthAdjust="spacingAndGlyphs">TradingView</text>
</svg>
</body></html>
